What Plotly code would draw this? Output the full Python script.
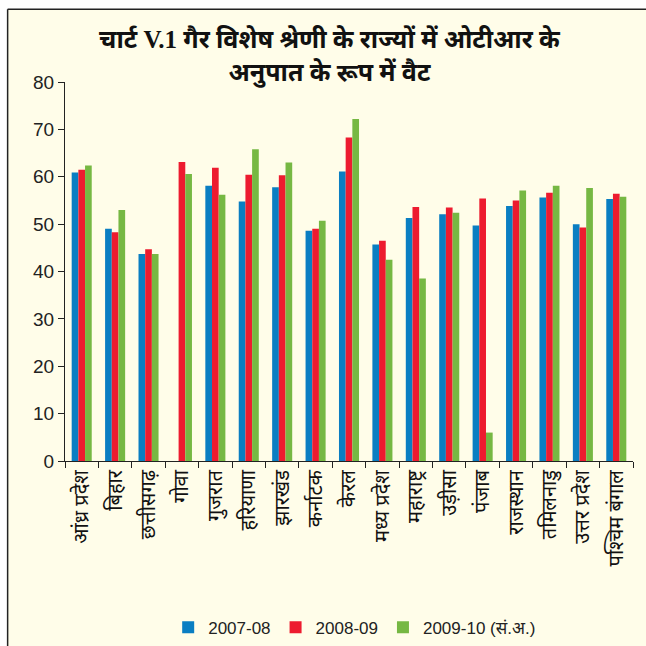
import plotly.graph_objects as go

# states (Hindi labels)
states = ["आंध्र प्रदेश", "बिहार", "छत्तीसगढ़", "गोवा", "गुजरात", "हरियाणा", "झारखंड",
          "कर्नाटक", "केरल", "मध्य प्रदेश", "महाराष्ट्र", "उड़ीसा", "पंजाब", "राजस्थान",
          "तमिलनाडु", "उत्तर प्रदेश", "पश्चिम बंगाल"]

vat_2007_08 = [60.9, 49.0, 43.7, None, 58.1, 54.8, 57.8, 48.6, 61.1, 45.7, 51.3, 52.1, 49.7, 53.8, 55.6, 50.0, 55.3]
vat_2008_09 = [61.5, 48.3, 44.7, 63.1, 61.9, 60.4, 60.3, 49.0, 68.3, 46.5, 53.6, 53.5, 55.4, 55.0, 56.6, 49.3, 56.4]
vat_2009_10 = [62.4, 53.0, 43.7, 60.6, 56.2, 65.8, 63.0, 50.7, 72.2, 42.5, 38.5, 52.4, 6.0, 57.1, 58.1, 57.6, 55.8]

series_names = ["2007-08", "2008-09", "2009-10 (सं.अ.)"]
colors = ["#0A7EC2", "#ED1B2F", "#76B843"]

bg = "#FFFDE9"

fig = go.Figure()
for name, vals, col in zip(series_names, [vat_2007_08, vat_2008_09, vat_2009_10], colors):
    fig.add_trace(go.Bar(x=states, y=vals, name=name,
                         marker=dict(color=col, line=dict(width=0))))

# cream panel with a frame on the top and left only (cut off at right/bottom)
frame = dict(color="#222", width=1.5)
fig.add_shape(type="rect", xref="paper", yref="paper", layer="below",
              x0=-0.101, x1=1.2, y0=-0.6, y1=1.192, fillcolor=bg, line=dict(width=0))
fig.add_shape(type="line", xref="paper", yref="paper", layer="below",
              x0=-0.101, x1=1.2, y0=1.192, y1=1.192, line=frame)
fig.add_shape(type="line", xref="paper", yref="paper", layer="below",
              x0=-0.101, x1=-0.101, y0=-0.6, y1=1.192, line=frame)

fig.update_layout(
    barmode="group",
    bargap=0.4,
    bargroupgap=0.0,
    width=646, height=646,
    paper_bgcolor="white", plot_bgcolor=bg,
    margin=dict(l=65, r=13, t=82, b=185, autoexpand=False),
    font=dict(family="Liberation Sans, Arial, Noto Sans", color="#222"),
    title=dict(
        text="<b>चार्ट V.1 गैर विशेष श्रेणी के राज्यों में ओटीआर के<br>अनुपात के रूप में वैट</b>",
        x=0.51, xanchor="center", y=0.925, yanchor="middle",
        font=dict(size=25, family="Liberation Serif, Noto Sans", color="#111"),
    ),
    legend=dict(orientation="h", x=0.51, xanchor="center", y=-0.44, yanchor="middle",
                font=dict(size=17, color="#222"), bgcolor="rgba(0,0,0,0)",
                itemwidth=30, traceorder="normal"),
    showlegend=True,
)

fig.update_xaxes(
    automargin=False,
    showline=True, linecolor="#222", linewidth=1.2,
    ticks="outside", ticklen=6, tickcolor="#222", tickson="boundaries",
    tickangle=-90, tickfont=dict(size=20, color="#111", family="Noto Sans, Liberation Sans"),
    showgrid=False,
)
fig.update_yaxes(
    automargin=False,
    range=[0, 80], dtick=10,
    showline=True, linecolor="#222", linewidth=1.2,
    ticks="outside", ticklen=6, tickcolor="#222",
    tickfont=dict(size=19, color="#222"),
    showgrid=False, zeroline=False,
)

# drop the default page margin so the figure fills the window
fig.write_html("out.html", config={"displayModeBar": False},
               post_script="document.body.style.margin='0';")
